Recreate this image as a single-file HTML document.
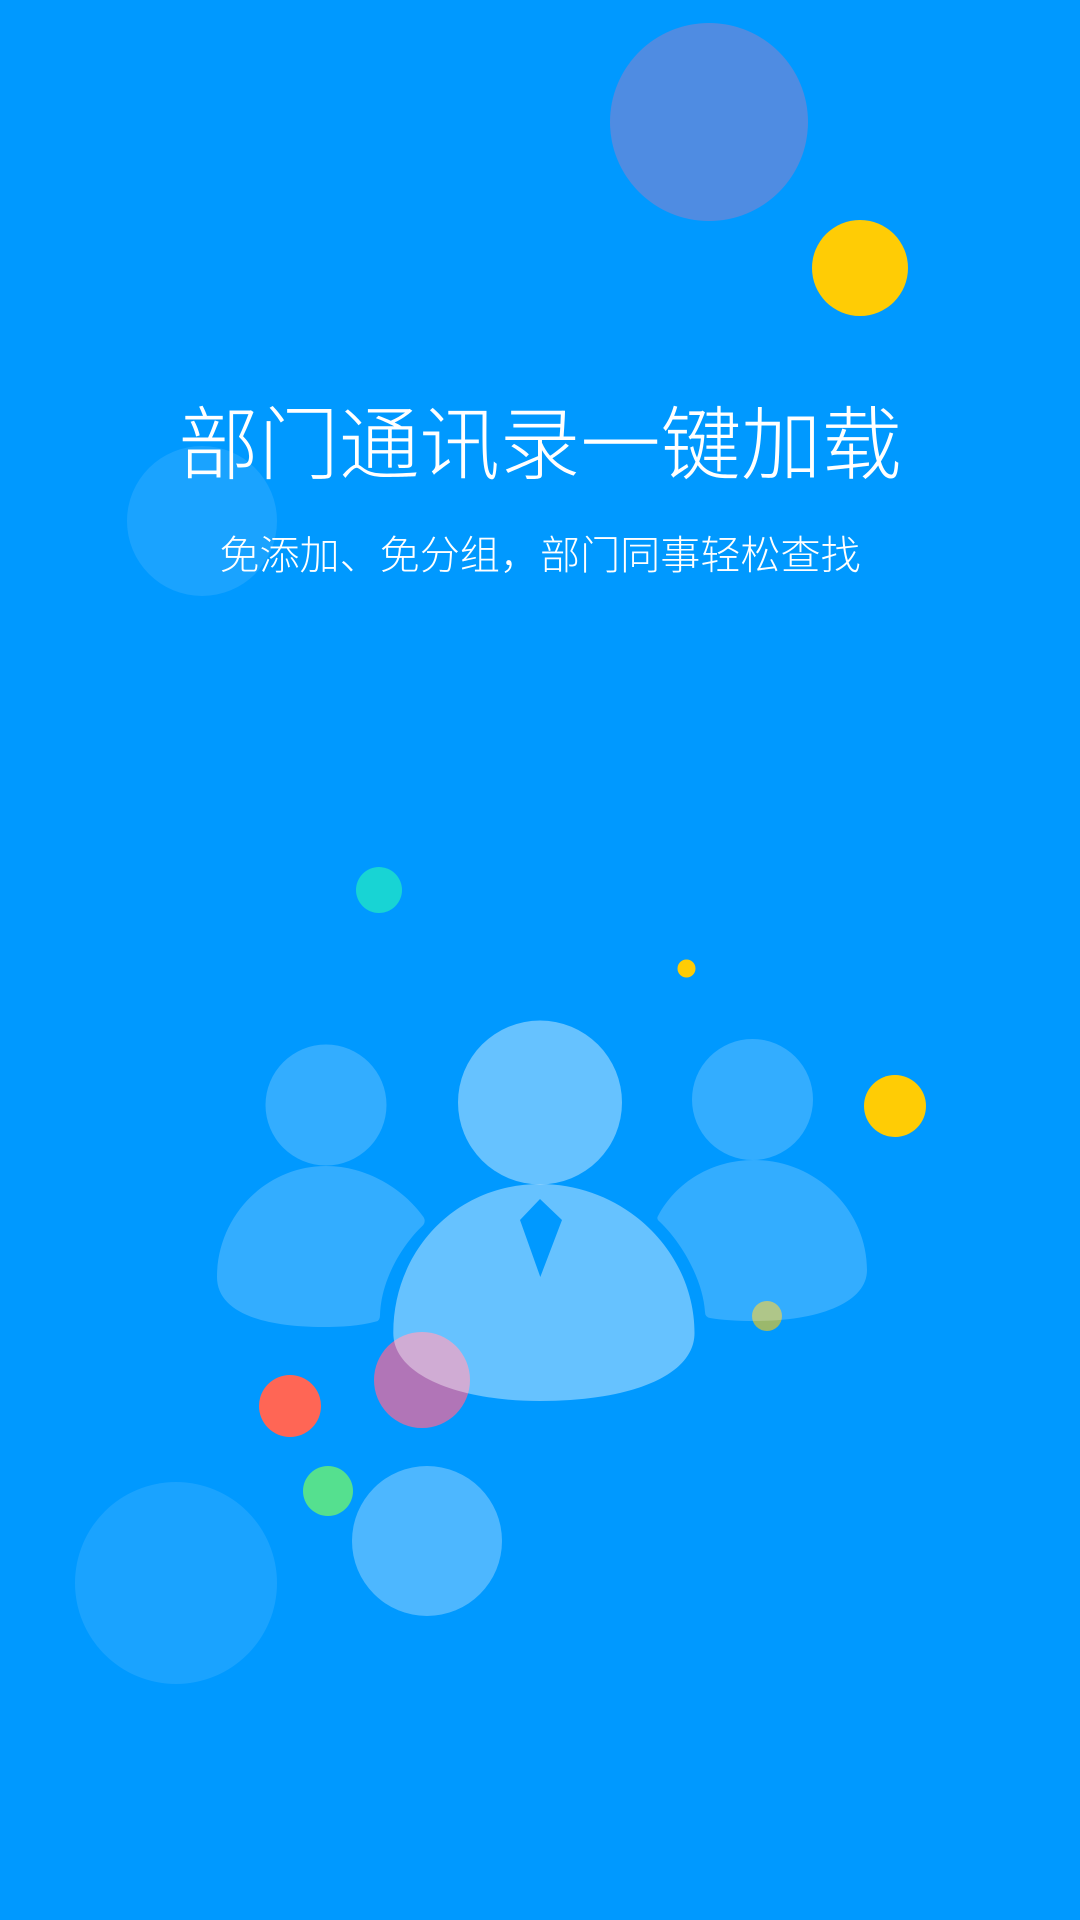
<!DOCTYPE html>
<html lang="zh-CN">
<head>
<meta charset="utf-8">
<title>部门通讯录一键加载</title>
<style>
html,body{margin:0;padding:0;width:1080px;height:1920px;overflow:hidden;background:#0099ff}
svg{position:absolute;left:0;top:0;display:block}
.t{position:absolute;left:0;width:1080px;text-align:center;color:#fff;white-space:nowrap;font-family:"Liberation Sans","Noto Sans CJK SC",sans-serif;font-weight:300;transform-origin:50% 0}
#title{top:391px;font-size:80px;line-height:110px;transform:scaleX(1.005)}
#subtitle{top:526px;font-size:40px;line-height:60px;transform:scaleX(1.002)}
</style>
</head>
<body>
<svg width="1080" height="1920" viewBox="0 0 1080 1920">
  <rect width="1080" height="1920" fill="#0099ff"/>
  <circle cx="709" cy="122" r="99" fill="#4f8ce2"/>
  <circle cx="860" cy="268" r="48" fill="#ffcc05"/>
  <circle cx="202" cy="521" r="75" fill="#fff" fill-opacity=".1"/>
  <circle cx="379" cy="890" r="23" fill="#18d4d4"/>
  <circle cx="686.5" cy="968.5" r="9" fill="#ffcc05"/>
  <circle cx="895" cy="1106" r="31" fill="#ffcc05"/>
  <circle cx="422" cy="1380" r="48" fill="#b175b7"/>
  <circle cx="767" cy="1316" r="15" fill="#9bb86c"/>
  <circle cx="290" cy="1406" r="31" fill="#ff6655"/>
  <circle cx="328" cy="1491" r="25" fill="#55e08f"/>
  <circle cx="427" cy="1541" r="75" fill="#fff" fill-opacity=".3"/>
  <circle cx="176" cy="1583" r="101" fill="#fff" fill-opacity=".1"/>

  <g fill="#fff" fill-opacity=".2">
    <circle cx="326" cy="1105" r="60.5"/>
    <path d="M326 1166C368 1166 404 1190 423.5 1217Q426 1221 423.3 1225C402 1245 381 1280 380 1315Q380 1321 376 1321.5C360 1326 340 1327 323 1327C262 1327 217 1312 217 1277C217 1217 265 1166 326 1166Z"/>
  </g>
  <g fill="#fff" fill-opacity=".2">
    <circle cx="752.5" cy="1099.5" r="60.5"/>
    <path d="M754 1160C816 1160 867 1210 867 1270C867 1303 818 1321 755 1321C738 1321 722 1320 710 1318Q705 1317 705 1312C703 1280 682 1243 660 1222Q656 1219 658 1216C676 1182 712 1160 754 1160Z"/>
  </g>
  <g fill="#fff" fill-opacity=".4">
    <circle cx="540" cy="1102.5" r="82"/>
    <path fill-rule="evenodd" d="M540 1184C455 1184 393 1252 393.3 1333C393.3 1376 460 1401 540 1401C630 1401 694.5 1376 694.5 1333C694.5 1252 625 1184 540 1184ZM540 1199L520 1220L540.3 1277L562 1220Z"/>
  </g>
</svg>
<div class="t" id="title">部门通讯录一键加载</div>
<div class="t" id="subtitle">免添加、免分组，部门同事轻松查找</div>
</body>
</html>
